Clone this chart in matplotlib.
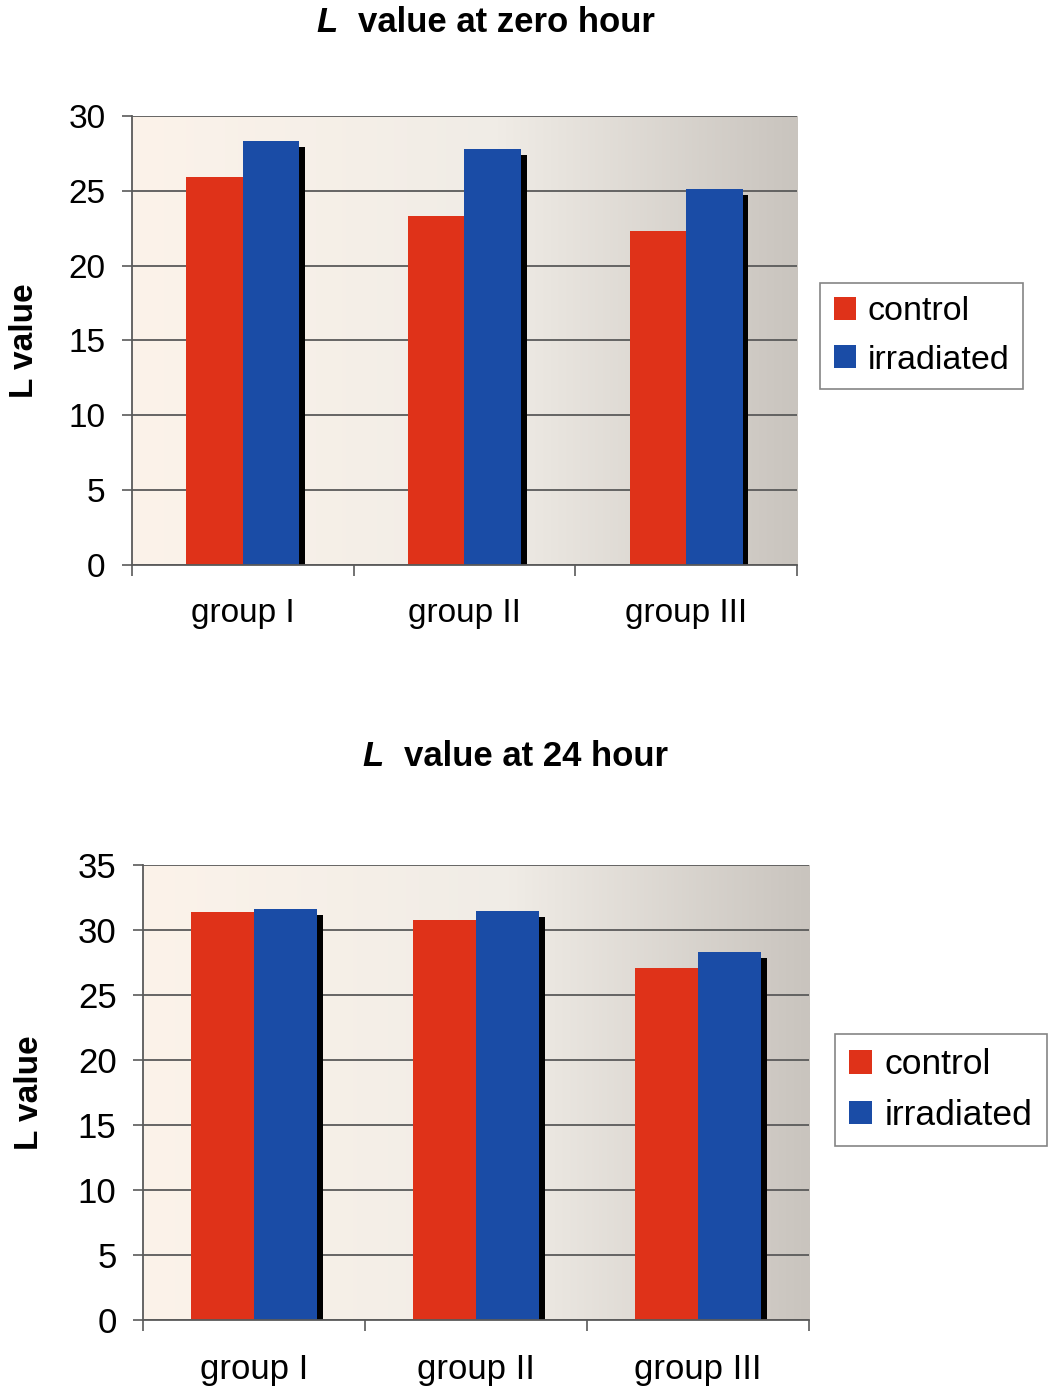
import numpy as np
import matplotlib.pyplot as plt
import matplotlib.patheffects as pe
from matplotlib.colors import LinearSegmentedColormap
from matplotlib.patches import Patch

plt.rcParams['font.family'] = ['Liberation Sans', 'DejaVu Sans']

# data
groups = ['group I', 'group II', 'group III']
series_names = ['control', 'irradiated']

zero_control = [25.9, 23.3, 22.3]
zero_irradiated = [28.3, 27.8, 25.1]
zero_yticks = [0, 5, 10, 15, 20, 25, 30]

day_control = [31.4, 30.8, 27.1]
day_irradiated = [31.6, 31.5, 28.3]
day_yticks = [0, 5, 10, 15, 20, 25, 30, 35]

RED = '#DF3219'
BLUE = '#1A4CA6'
AXIS_GRAY = '#5a5a5a'

# cream on the left fading to grey on the right
bg_cmap = LinearSegmentedColormap.from_list(
    'wall', [(0.0, '#FCF3EA'), (0.55, '#F0ECE6'), (1.0, '#C9C4BE')])


def draw_panel(ax, control, irradiated, yticks, width, fs):
    grad = np.linspace(0, 1, 256).reshape(1, -1)
    ax.imshow(grad, extent=[0, 1, 0, 1], transform=ax.transAxes,
              cmap=bg_cmap, aspect='auto', zorder=0)

    x = np.arange(len(groups))
    shadow = [pe.SimplePatchShadow(offset=(4, -4.5), shadow_rgbFace='black', alpha=1.0),
              pe.Normal()]
    b1 = ax.bar(x - width / 2, control, width, color=RED, zorder=2)
    b2 = ax.bar(x + width / 2, irradiated, width, color=BLUE, zorder=2)
    for bar in list(b1) + list(b2):
        bar.set_path_effects(shadow)

    ax.set_xlim(-0.5, len(groups) - 0.5)
    ax.set_ylim(yticks[0], yticks[-1])

    ax.set_axisbelow(True)
    ax.yaxis.grid(True, color=AXIS_GRAY, lw=1.3, zorder=1)

    ax.set_yticks(yticks)
    ax.tick_params(axis='y', direction='out', length=7, width=1.2,
                   color=AXIS_GRAY, labelsize=fs, pad=12)

    # ticks sit between groups, labels at group centres
    ax.set_xticks(np.arange(len(groups) + 1) - 0.5)
    ax.set_xticklabels([])
    ax.set_xticks(x, minor=True)
    ax.set_xticklabels(groups, minor=True)
    ax.tick_params(axis='x', which='major', direction='out', length=8, width=1.2,
                   color=AXIS_GRAY)
    ax.tick_params(axis='x', which='minor', length=0, labelsize=fs, pad=24)

    for side in ['top', 'right']:
        ax.spines[side].set_visible(False)
    for side in ['left', 'bottom']:
        ax.spines[side].set_color(AXIS_GRAY)
        ax.spines[side].set_linewidth(1.3)

    ax.set_ylabel('L value', fontsize=24, fontweight='bold')


def panel_title(ax, x, y, rest):
    t = ax.figure.text(x, y, 'L', fontsize=25, fontweight='bold', style='italic',
                       ha='left', va='center')
    ax.annotate(rest, xy=(1, 0), xycoords=t, xytext=(15, 0),
                textcoords='offset points', fontsize=25,
                fontweight='bold', ha='left', va='bottom',
                annotation_clip=False)


fig = plt.figure(figsize=(10.49, 13.95), dpi=100)
fig.patch.set_facecolor('white')

ax_top = fig.add_axes([0.1258, 0.595, 0.634, 0.322])
ax_bot = fig.add_axes([0.1363, 0.0538, 0.635, 0.3261])

draw_panel(ax_top, zero_control, zero_irradiated, zero_yticks, 0.255, 24)
draw_panel(ax_bot, day_control, day_irradiated, day_yticks, 0.285, 25)

ax_top.yaxis.set_label_coords(-0.138, 0.5)
ax_bot.yaxis.set_label_coords(-0.147, 0.5)

panel_title(ax_top, 316 / 1049, 1 - 23 / 1395, 'value at zero hour')
panel_title(ax_bot, 362 / 1049, 1 - 757 / 1395, 'value at 24 hour')

handles = [Patch(facecolor=RED, edgecolor='none'),
           Patch(facecolor=BLUE, edgecolor='none')]
legend_kw = dict(fontsize=24.5, frameon=True, fancybox=False, loc='center left',
                 borderpad=0.4, labelspacing=0.5, handlelength=0.65,
                 handleheight=0.65, handletextpad=0.35, borderaxespad=0,
                 edgecolor='#666666')
leg1 = ax_top.legend(handles, series_names,
                     bbox_to_anchor=(820 / 1049, 1 - 336 / 1395),
                     bbox_transform=fig.transFigure, **legend_kw)
legend_kw['fontsize'] = 25.5
leg2 = ax_bot.legend(handles, series_names,
                     bbox_to_anchor=(835 / 1049, 1 - 1090 / 1395),
                     bbox_transform=fig.transFigure, **legend_kw)
for leg in (leg1, leg2):
    leg.get_frame().set_linewidth(1.2)

fig.savefig('out.png', dpi=100, facecolor='white')
